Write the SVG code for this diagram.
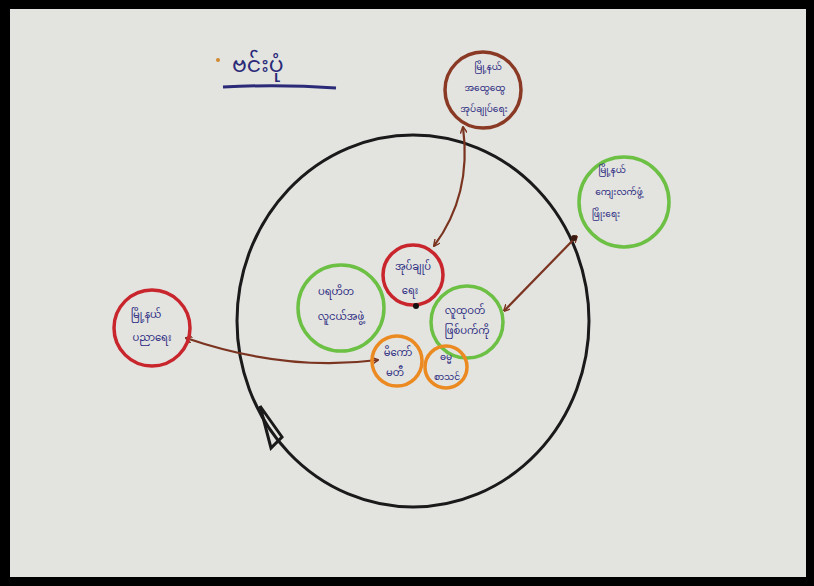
<svg xmlns="http://www.w3.org/2000/svg" width="814" height="586" viewBox="0 0 814 586">
<defs>
<marker id="ah" viewBox="0 0 10 10" refX="9" refY="5" markerWidth="7" markerHeight="7" orient="auto-start-reverse" markerUnits="userSpaceOnUse">
<path d="M0 0 L10 5 L0 10" fill="none" stroke="#7a3420" stroke-width="2"/>
</marker>
<style>
.t{font-family:"Noto Sans Myanmar","Padauk","Myanmar Text","Noto Sans",sans-serif;font-size:10px;fill:#2c2c80;text-anchor:middle}
.s{font-size:9px}
.c{fill:none;stroke-width:3.5}
.red{stroke:#c8262c}
.grn{stroke:#6cc044}
.org{stroke:#ec8a22}
.brn{stroke:#8a3a24}
.con{fill:none;stroke:#7a3420;stroke-width:2.2;marker-start:url(#ah);marker-end:url(#ah)}
</style>
</defs>
<rect x="0" y="0" width="814" height="586" fill="#000"/>
<rect x="10" y="9" width="796" height="568" fill="#e3e3e0"/>

<g id="title">
<circle cx="218" cy="60" r="2" fill="#d08a30"/>
<text x="232" y="72" style="font-family:'Noto Sans Myanmar','Padauk','Noto Sans',sans-serif;font-size:22px;fill:#2a2a78">ဗင်းပုံ</text>
<path d="M223 87 Q280 84 336 88" fill="none" stroke="#2a2a78" stroke-width="3"/>
</g>

<g id="boundary">
<ellipse cx="413" cy="321" rx="176" ry="186" fill="none" stroke="#1a1a1a" stroke-width="3"/>
<path d="M260 406 L271 448 L282 437 Z" fill="none" stroke="#1a1a1a" stroke-width="3"/>
</g>

<g id="connectors">
<path class="con" d="M463 127 Q472 195 434 246"/>
<path class="con" d="M577 236 L504 311"/>
<path class="con" d="M186 338 Q285 372 378 360"/>
<circle cx="574" cy="238" r="3" fill="#3a1a10"/>
</g>

<g id="n-top">
<circle class="c brn" cx="483" cy="90" r="38"/>
<text class="t s" x="488" y="70">မြို့နယ်</text>
<text class="t s" x="485" y="91">အထွေထွေ</text>
<text class="t s" x="484" y="112">အုပ်ချုပ်ရေး</text>
</g>

<g id="n-right">
<circle class="c grn" cx="624" cy="202" r="45"/>
<text class="t s" x="612" y="173">မြို့နယ်</text>
<text class="t s" x="619" y="195">ကျေးလက်ဖွံ့</text>
<text class="t s" x="606" y="217">ဖြိုးရေး</text>
</g>

<g id="n-left">
<circle class="c red" cx="152" cy="328" r="38"/>
<text class="t" x="146" y="318">မြို့နယ်</text>
<text class="t" x="152" y="341">ပညာရေး</text>
</g>

<g id="n-center">
<circle class="c red" cx="413" cy="275" r="30"/>
<circle cx="416" cy="306" r="3" fill="#111"/>
<text class="t" x="413" y="270">အုပ်ချုပ်</text>
<text class="t" x="410" y="294">ရေး</text>
</g>

<g id="n-greenleft">
<circle class="c grn" cx="341" cy="308" r="43"/>
<text class="t" x="336" y="295">ပရဟိတ</text>
<text class="t" x="341" y="320">လူငယ်အဖွဲ့</text>
</g>

<g id="n-greenright">
<circle class="c grn" cx="467" cy="322" r="36"/>
<text class="t" x="465" y="314">လူထုဝတ်</text>
<text class="t" x="467" y="334">ဖြစ်ပက်ကို</text>
</g>

<g id="n-orangeleft">
<circle class="c org" cx="397" cy="361" r="25"/>
<text class="t" x="398" y="356">မိကော်</text>
<text class="t" x="395" y="376">မတီ</text>
</g>

<g id="n-orangeright">
<circle class="c org" cx="446" cy="367" r="21"/>
<text class="t s" x="446" y="360">ဓမ္မ</text>
<text class="t s" x="447" y="380">စာသင်</text>
</g>
</svg>
